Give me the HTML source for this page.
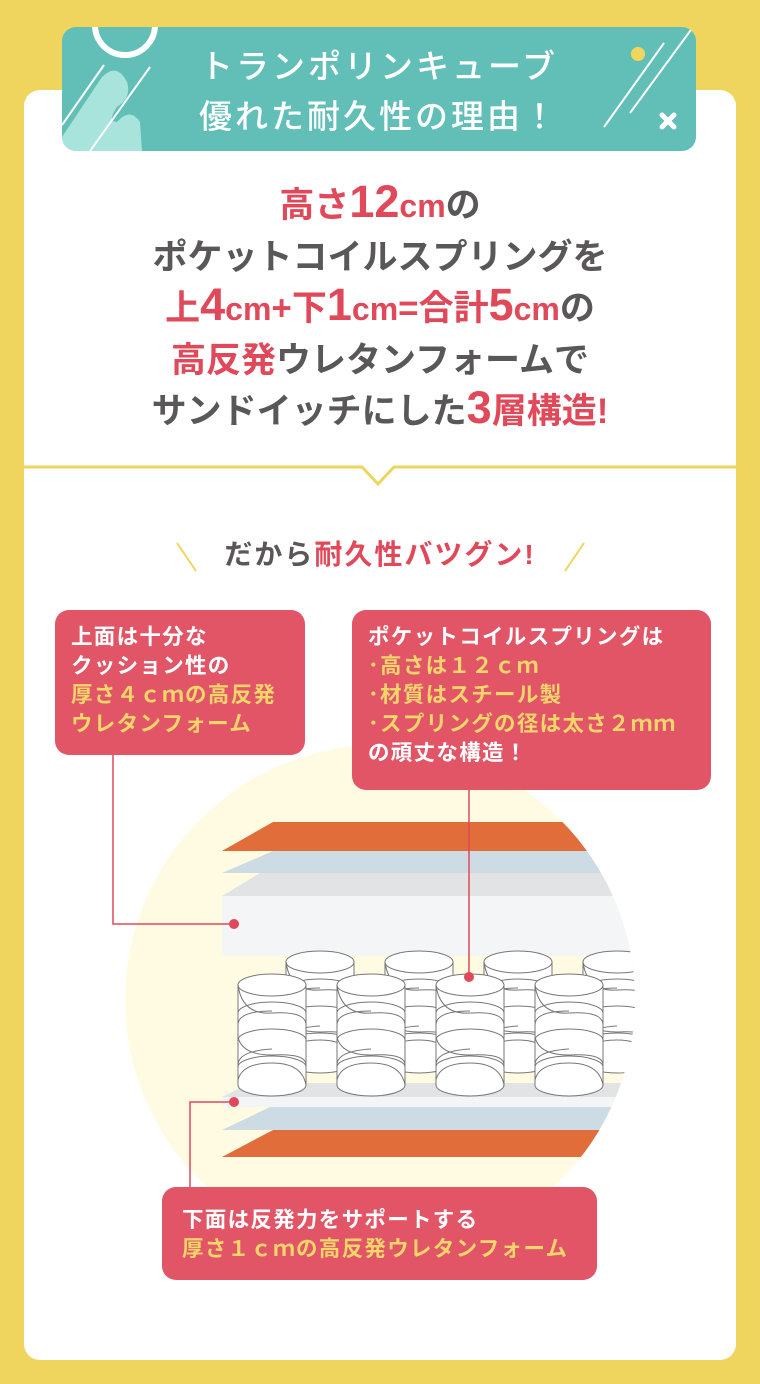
<!DOCTYPE html>
<html><head><meta charset="utf-8"><style>
*{margin:0;padding:0;box-sizing:border-box}
body{width:760px;height:1384px;background:#efd55e;position:relative;overflow:hidden;font-family:"Liberation Sans","Noto Sans CJK JP",sans-serif;font-weight:bold}
.card{position:absolute;left:24px;top:90px;width:712px;height:1270px;background:#fff;border-radius:16px}
.banner{position:absolute;left:62px;top:27px;width:634px;height:124px;background:#62bfb8;border-radius:14px;overflow:hidden}
.bt{position:absolute;left:0;width:634px;text-align:center;color:#fff;font-size:33px;line-height:42px;letter-spacing:3px;font-family:"Noto Sans CJK JP",sans-serif;font-weight:500}
.head{position:absolute;left:0;top:180px;width:760px;text-align:center;font-size:35px;line-height:51.5px;color:#5a5758;letter-spacing:0px}
.n{font-size:45px;line-height:40px}
.c{font-size:32px;line-height:40px}
.p{color:#e0495a}
.sub{position:absolute;left:0;top:533px;width:760px;text-align:center;font-size:28px;color:#5a5758;letter-spacing:2px}
.box{position:absolute;background:#e25566;border-radius:14px;color:#fff;font-size:21.5px;line-height:29px;padding:12px 16px;letter-spacing:1.3px;font-family:"Noto Sans CJK JP",sans-serif;font-weight:bold}
.y{color:#f3d56b}
</style></head><body>
<div class="card"></div>
<div class="banner">
<svg width="634" height="124" style="position:absolute;left:0;top:0">
<circle cx="63" cy="-2" r="30" fill="none" stroke="#fff" stroke-width="6"/>
<path d="M0 124 L0 110 L40 50 Q55 35 65 55 Q70 70 55 80 Q45 95 55 95 Q68 80 78 95 L80 124 Z" fill="#a8e3dc"/>
<line x1="0" y1="98" x2="42" y2="38" stroke="#fff" stroke-width="2"/>
<line x1="28" y1="124" x2="88" y2="40" stroke="#fff" stroke-width="2"/>
<line x1="542" y1="100" x2="602" y2="16" stroke="#fff" stroke-width="2"/>
<line x1="568" y1="86" x2="634" y2="-4" stroke="#fff" stroke-width="2"/>
<ellipse cx="576" cy="27" rx="7" ry="7" fill="#f2d65c"/>
<path d="M600 88 l12 12 M612 88 l-12 12" stroke="#fff" stroke-width="5" stroke-linecap="round"/>
</svg>
<div class="bt" style="top:16px">トランポリンキューブ</div>
<div class="bt" style="top:66px">優れた耐久性の理由！</div>
</div>
<div class="head">
<div><span class="p">高さ<span class="n">12</span><span class="c">cm</span></span>の</div>
<div>ポケットコイルスプリングを</div>
<div><span class="p">上<span class="n">4</span><span class="c">cm</span>+下<span class="n">1</span><span class="c">cm</span>=合計<span class="n">5</span><span class="c">cm</span></span>の</div>
<div><span class="p">高反発</span>ウレタンフォームで</div>
<div>サンドイッチにした<span class="p"><span class="n">3</span>層構造!</span></div>
</div>
<svg width="760" height="1384" style="position:absolute;left:0;top:0">
<polyline points="24,467 362,467 378,484 394,467 736,467" fill="none" stroke="#efd55e" stroke-width="3"/>
<line x1="177" y1="543" x2="196" y2="571" stroke="#efd55e" stroke-width="2"/>
<line x1="584" y1="543" x2="565" y2="571" stroke="#efd55e" stroke-width="2"/>
<defs>
<clipPath id="c"><circle cx="380" cy="1000" r="255"/></clipPath>
<g id="sp">
<path d="M-34 0 L-34 100 A34 11 0 0 0 34 100 L34 0 Z" fill="#fff" stroke="#777" stroke-width="1"/>
<ellipse cx="0" cy="0" rx="34" ry="11" fill="#fff" stroke="#777"/>
<path d="M-34 0 Q-30 30 0 28 Q34 26 34 40 M-34 40 Q-34 26 0 26 M-34 52 Q-30 70 0 70 Q34 68 34 80 M-34 80 Q-34 66 0 64 M-34 28 A34 11 0 0 1 34 28 M-34 55 A34 11 0 0 1 34 55 M-34 82 A34 11 0 0 1 34 82 M-34 95 Q-30 78 0 78 Q30 78 34 100" fill="none" stroke="#777"/>
</g>
</defs>
<circle cx="380" cy="1000" r="255" fill="#fffbe3"/>
<g clip-path="url(#c)">
<polygon points="273,822 700,822 700,851 222,851" fill="#e06d3a"/>
<polygon points="273,851 700,851 700,873 222,873" fill="#cddbe4"/>
<polygon points="260,873 700,873 700,896 222,896" fill="#e2e3e5"/>
<rect x="222" y="896" width="480" height="60" fill="#f4f5f7"/>
<polygon points="250,1083 700,1083 700,1097 222,1097" fill="#e2e3e5"/>
<rect x="222" y="1097" width="480" height="10" fill="#f4f5f7"/>
<polygon points="270,1107 700,1107 700,1130 222,1130" fill="#cddbe4"/>
<polygon points="273,1130 700,1130 700,1157 222,1157" fill="#e06d3a"/>
<use href="#sp" x="320" y="962"/><use href="#sp" x="419" y="962"/><use href="#sp" x="518" y="962"/><use href="#sp" x="617" y="962"/>
<use href="#sp" x="272" y="985"/><use href="#sp" x="371" y="985"/><use href="#sp" x="470" y="985"/><use href="#sp" x="569" y="985"/>
</g>
<polyline points="113,755 113,924 234,924" fill="none" stroke="#e0495a" stroke-width="1.5"/>
<circle cx="234" cy="924" r="5" fill="#e0495a"/>
<line x1="469" y1="790" x2="469" y2="977" stroke="#e0495a" stroke-width="1.5"/>
<circle cx="469" cy="977" r="5" fill="#e0495a"/>
<polyline points="190,1187 190,1102 234,1102" fill="none" stroke="#e0495a" stroke-width="1.5"/>
<circle cx="234" cy="1102" r="5" fill="#e0495a"/>
</svg>
<div class="sub">だから<span class="p">耐久性バツグン!</span></div>
<div class="box" style="left:55px;top:610px;width:250px;height:145px;padding-top:11px">上面は十分な<br>クッション性の<br><span class="y">厚さ４ｃｍの高反発<br>ウレタンフォーム</span></div>
<div class="box" style="left:352px;top:610px;width:359px;height:180px;padding-top:11px">ポケットコイルスプリングは<br><span class="y">･高さは１２ｃｍ<br>･材質はスチール製<br>･スプリングの径は太さ２ｍｍ</span><br>の頑丈な構造！</div>
<div class="box" style="left:162px;top:1187px;width:435px;height:93px;padding-top:17px;padding-left:20px">下面は反発力をサポートする<br><span class="y">厚さ１ｃｍの高反発ウレタンフォーム</span></div>
</body></html>
